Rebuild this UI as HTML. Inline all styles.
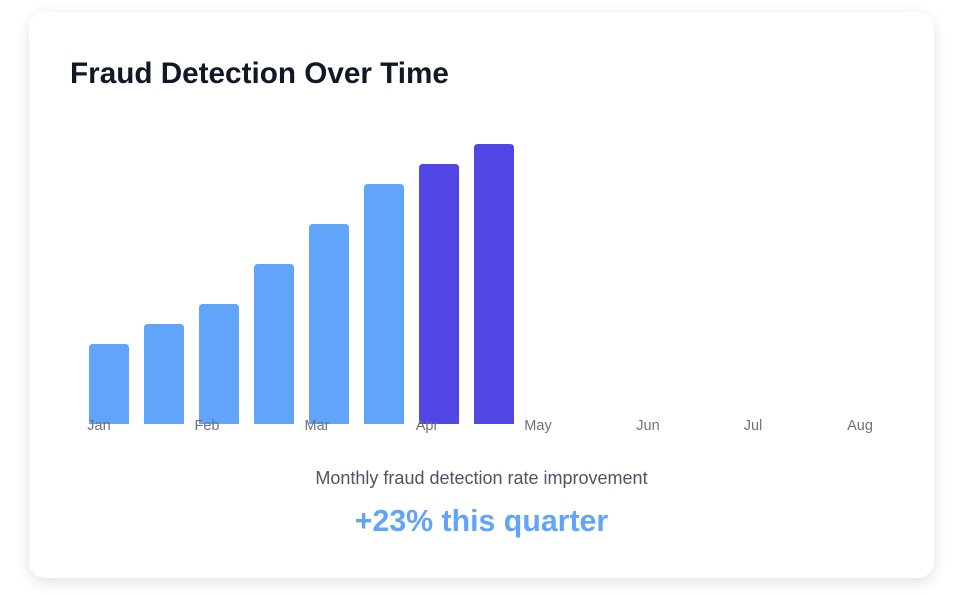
<!DOCTYPE html>
<html><head><meta charset="utf-8"><style>
body{margin:0;background:#fff;width:955px;height:594px;overflow:hidden;font-family:"Liberation Sans",sans-serif;}
.card{position:absolute;left:29px;top:12px;width:905px;height:566px;background:#fff;border-radius:16px;box-shadow:0 4px 14px rgba(0,0,0,0.12);}
.title{position:absolute;left:41px;top:45px;font-size:29.7px;font-weight:bold;color:#111827;}
.sub{position:absolute;left:0;width:905px;top:456px;text-align:center;font-size:18px;color:#4b5563;}
.big{position:absolute;left:0;width:905px;top:493px;text-align:center;font-size:30.3px;font-weight:bold;color:#60a5fa;}
svg{position:absolute;left:0;top:0;}
</style></head><body>
<div class="card">
<div class="title">Fraud Detection Over Time</div>
<div class="sub">Monthly fraud detection rate improvement</div>
<div class="big">+23% this quarter</div>
</div>
<svg id="chart" width="955" height="594"></svg>
<script>
const values=[40,50,60,80,100,120,130,140];
const highlight=[false,false,false,false,false,false,true,true];
const months=["Jan","Feb","Mar","Apr","May","Jun","Jul","Aug"];
const labelX=[99,207,317,427,538,648,753,860];
const svg=document.getElementById('chart');
const NS='http://www.w3.org/2000/svg';
const base=424, scale=2, x0=89, step=55, bw=40;
function xPos(i){return x0+i*step;}
function yPos(v){return base-v*scale;}
values.forEach((v,i)=>{
  const r=document.createElementNS(NS,'path');
  const x=xPos(i),y=yPos(v),rr=4;
  r.setAttribute('d',`M${x},${base}V${y+rr}Q${x},${y} ${x+rr},${y}H${x+bw-rr}Q${x+bw},${y} ${x+bw},${y+rr}V${base}Z`);
  r.setAttribute('fill',highlight[i]?'#4f46e5':'#60a5fa');
  
  
  svg.appendChild(r);
});
months.forEach((m,i)=>{
  const t=document.createElementNS(NS,'text');
  t.setAttribute('x',labelX[i]);t.setAttribute('y',430);
  t.setAttribute('text-anchor','middle');t.setAttribute('font-size','14.5');
  t.setAttribute('fill','#6b7280');t.setAttribute('font-family','Liberation Sans, sans-serif');
  t.textContent=m;
  
  
  svg.appendChild(t);
});
</script>
</body></html>
